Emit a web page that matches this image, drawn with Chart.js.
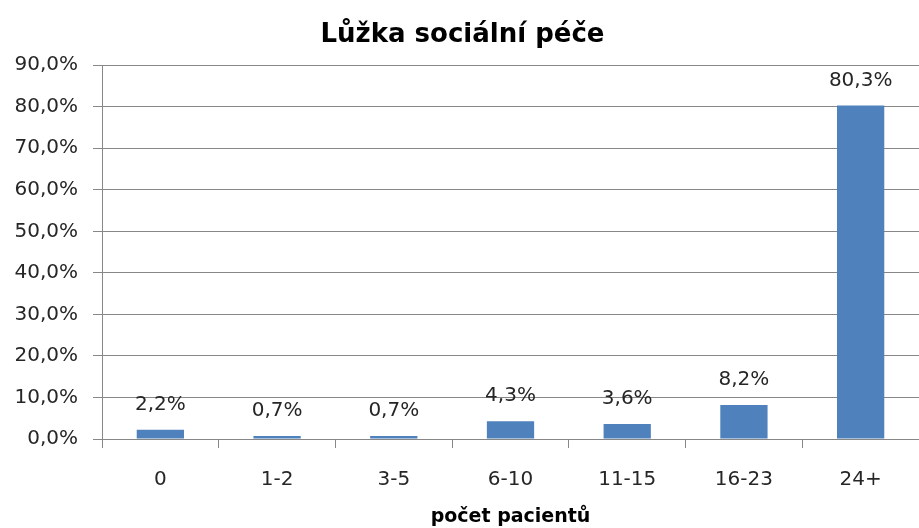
<!DOCTYPE html>
<html>
<head>
<meta charset="utf-8">
<script src="https://cdn.jsdelivr.net/npm/chart.js@4"></script>
<style>
  html, body { margin: 0; padding: 0; background: #fff; }
  #wrap { width: 919px; height: 528px; }
</style>
</head>
<body>
<div id="wrap"><canvas id="chart"></canvas></div>
<script>
// data
const categories = ['0', '1-2', '3-5', '6-10', '11-15', '16-23', '24+'];
const shares = [2.2, 0.7, 0.7, 4.3, 3.6, 8.2, 80.3];
const chartTitle = 'Lůžka sociální péče';
const xTitle = 'počet pacientů';

const fmt = (v, d) => v.toFixed(d).replace('.', ',') + '%';

// draws the value labels above each bar
const barLabels = {
    id: 'barLabels',
    afterDatasetsDraw(chart) {
        const ctx = chart.ctx;
        const meta = chart.getDatasetMeta(0);
        ctx.save();
        ctx.font = '20px "DejaVu Sans"';
        ctx.fillStyle = '#262626';
        ctx.textAlign = 'center';
        ctx.textBaseline = 'bottom';
        meta.data.forEach((bar, i) => {
            ctx.fillText(fmt(shares[i], 1), bar.x, bar.y - 15);
        });
        ctx.restore();
    }
};

const ctx = document.getElementById('chart').getContext('2d');
const chart = new Chart(ctx, {
    type: 'bar',
    data: {
        labels: categories,
        datasets: [{
            data: shares,
            backgroundColor: '#4f81bd',
            borderWidth: 0,
            categoryPercentage: 1,
            barPercentage: 0.405
        }]
    },
    options: {
        responsive: true,
        maintainAspectRatio: false,
        animation: false,
        layout: { padding: { left: 0, right: -6, top: 10, bottom: 0 } },
        plugins: {
            legend: { display: false },
            tooltip: { enabled: false },
            title: {
                display: true,
                text: chartTitle,
                color: '#000',
                font: { family: '"DejaVu Sans"', size: 26, weight: 'bold' },
                padding: { top: 10, bottom: 14 }
            }
        },
        scales: {
            y: {
                min: 0,
                max: 90,
                ticks: {
                    stepSize: 10,
                    color: '#262626',
                    font: { family: '"DejaVu Sans"', size: 20 },
                    padding: 15,
                    callback: v => fmt(v, 1)
                },
                grid: { color: '#878787', tickLength: 9 },
                border: { color: '#878787' },
                afterFit: s => { s.width = 102; }
            },
            x: {
                ticks: {
                    color: '#262626',
                    font: { family: '"DejaVu Sans"', size: 20 },
                    padding: 20
                },
                grid: { drawOnChartArea: false, color: '#878787', tickLength: 9, offset: true },
                border: { color: '#878787' },
                title: {
                    display: true,
                    text: xTitle,
                    color: '#000',
                    font: { family: '"DejaVu Sans"', size: 19, weight: 'bold' },
                    padding: { top: 0, bottom: 0 }
                },
                afterFit: s => { s.height = 89; }
            }
        }
    },
    plugins: [barLabels]
});
</script>
</body>
</html>
